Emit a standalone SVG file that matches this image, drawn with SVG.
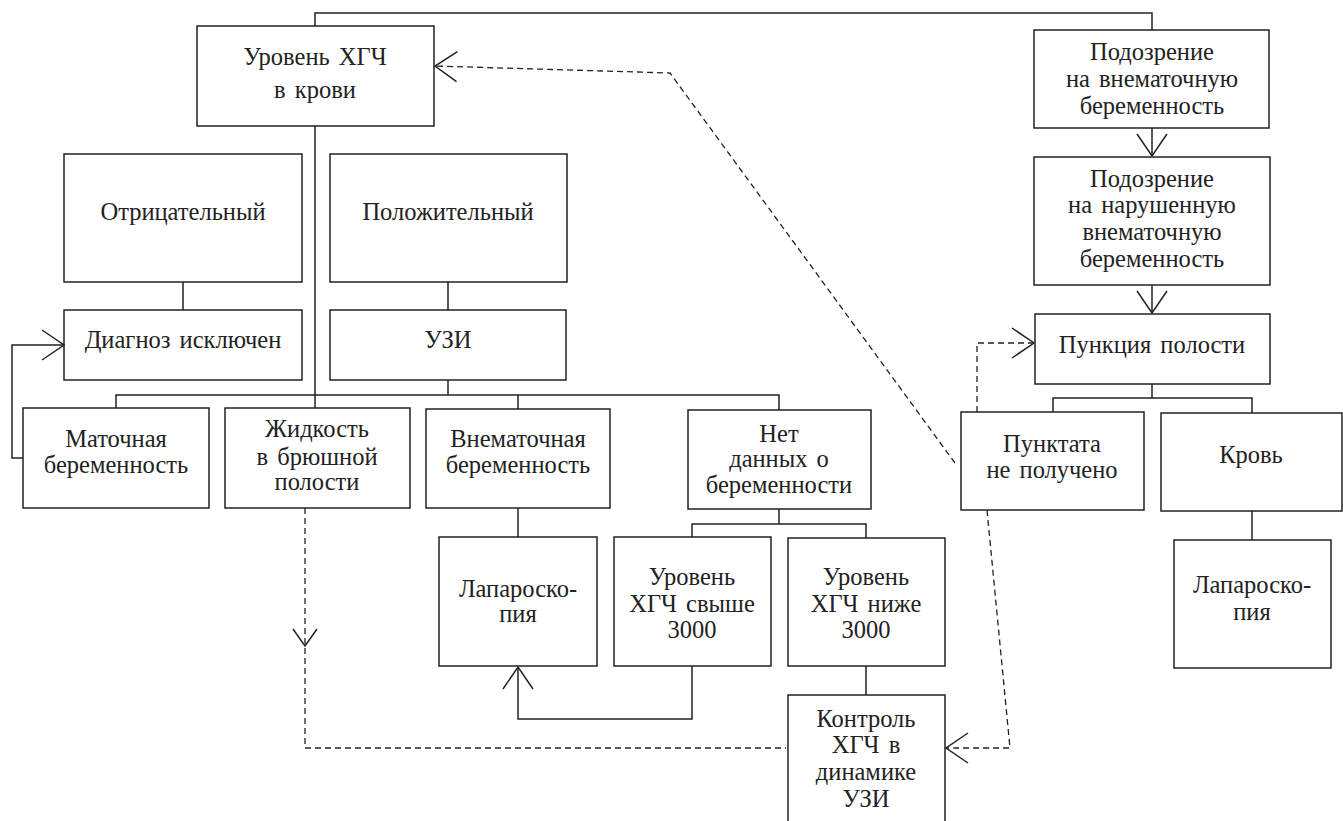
<svg xmlns="http://www.w3.org/2000/svg" width="1343" height="821" viewBox="0 0 1343 821">
<style>
rect{fill:none;stroke:#222;stroke-width:1.5}
text{font-family:"Liberation Serif","DejaVu Serif",serif;font-size:24.5px;word-spacing:3px;fill:#222;text-anchor:middle}
.c path{fill:none;stroke:#222;stroke-width:1.5}
.c path.d{stroke-dasharray:6,4;stroke-width:1.3}
</style>
<defs>
<marker id="v" viewBox="-25 -17 27 34" markerWidth="27" markerHeight="34" refX="0" refY="0" markerUnits="userSpaceOnUse" orient="auto" overflow="visible">
<path d="M-22,-15 L0,0 L-22,15" fill="none" stroke="#222" stroke-width="1.5"/>
</marker>
</defs>
<rect x="0" y="0" width="1343" height="821" style="fill:#fff;stroke:none"/>
<g class="c" id="connectors">
<path d="M315,26 V13 H1152 V30"/>
<path d="M315,126 V408"/>
<path d="M183,282 V310"/>
<path d="M448,282 V310"/>
<path d="M448,380 V395 M116,408 V395 H779 V410 M518,395 V409"/>
<path d="M23,458 H12 V345 H64" marker-end="url(#v)"/>
<path d="M518,508 V537"/>
<path d="M779,509 V524 M692,537 V524 H866 V538"/>
<path d="M866,666 V695"/>
<path d="M692,666 V719 H518 V667" marker-end="url(#v)"/>
<path d="M1152,128 V156" marker-end="url(#v)"/>
<path d="M1152,285 V313" marker-end="url(#v)"/>
<path d="M1152,384 V398 M1053,412 V398 H1252 V413"/>
<path d="M1252,511 V540"/>
<path class="d" d="M305,508 V748 H786"/>
<path d="M293,629 L305,646 L317,629"/>
<path class="d" d="M987,510 L1010,748 H946" marker-end="url(#v)"/>
<path class="d" d="M977,412 V343 H1034" marker-end="url(#v)"/>
<path class="d" d="M955,463 L670,73 L435,66" marker-end="url(#v)"/>
</g>
<g id="n1"><rect x="197" y="26" width="237" height="100"/><text x="315" y="65">Уровень ХГЧ</text><text x="315" y="98">в крови</text></g>
<g id="n2"><rect x="64" y="154" width="238" height="128"/><text x="183" y="220">Отрицательный</text></g>
<g id="n3"><rect x="330" y="154" width="237" height="128"/><text x="448" y="220">Положительный</text></g>
<g id="n4"><rect x="64" y="310" width="238" height="70"/><text x="183" y="348">Диагноз исключен</text></g>
<g id="n5"><rect x="330" y="310" width="236" height="70"/><text x="448" y="348">УЗИ</text></g>
<g id="n6"><rect x="23" y="408" width="186" height="100"/><text x="116" y="447">Маточная</text><text x="116" y="473">беременность</text></g>
<g id="n7"><rect x="225" y="408" width="185" height="100"/><text x="317" y="437">Жидкость</text><text x="317" y="465">в брюшной</text><text x="317" y="490">полости</text></g>
<g id="n8"><rect x="426" y="409" width="184" height="99"/><text x="518" y="447">Внематочная</text><text x="518" y="473">беременность</text></g>
<g id="n9"><rect x="688" y="410" width="183" height="99"/><text x="779" y="442">Нет</text><text x="779" y="467">данных о</text><text x="779" y="493">беременности</text></g>
<g id="n10"><rect x="439" y="537" width="158" height="129"/><text x="518" y="597">Лапароско-</text><text x="518" y="622">пия</text></g>
<g id="n11"><rect x="614" y="537" width="157" height="129"/><text x="692" y="585">Уровень</text><text x="692" y="612">ХГЧ свыше</text><text x="692" y="638">3000</text></g>
<g id="n12"><rect x="788" y="538" width="157" height="128"/><text x="866" y="585">Уровень</text><text x="866" y="612">ХГЧ ниже</text><text x="866" y="638">3000</text></g>
<g id="n13"><rect x="788" y="695" width="157" height="130"/><text x="866" y="727">Контроль</text><text x="866" y="753">ХГЧ в</text><text x="866" y="780">динамике</text><text x="866" y="807">УЗИ</text></g>
<g id="n14"><rect x="1034" y="30" width="235" height="98"/><text x="1152" y="60">Подозрение</text><text x="1152" y="87">на внематочную</text><text x="1152" y="114">беременность</text></g>
<g id="n15"><rect x="1034" y="157" width="236" height="128"/><text x="1152" y="187">Подозрение</text><text x="1152" y="213">на нарушенную</text><text x="1152" y="240">внематочную</text><text x="1152" y="267">беременность</text></g>
<g id="n16"><rect x="1035" y="314" width="235" height="70"/><text x="1152" y="353">Пункция полости</text></g>
<g id="n17"><rect x="961" y="412" width="183" height="98"/><text x="1052" y="452">Пунктата</text><text x="1052" y="478">не получено</text></g>
<g id="n18"><rect x="1161" y="413" width="181" height="98"/><text x="1251" y="463">Кровь</text></g>
<g id="n19"><rect x="1174" y="540" width="157" height="128"/><text x="1252" y="593">Лапароско-</text><text x="1252" y="620">пия</text></g>
</svg>
